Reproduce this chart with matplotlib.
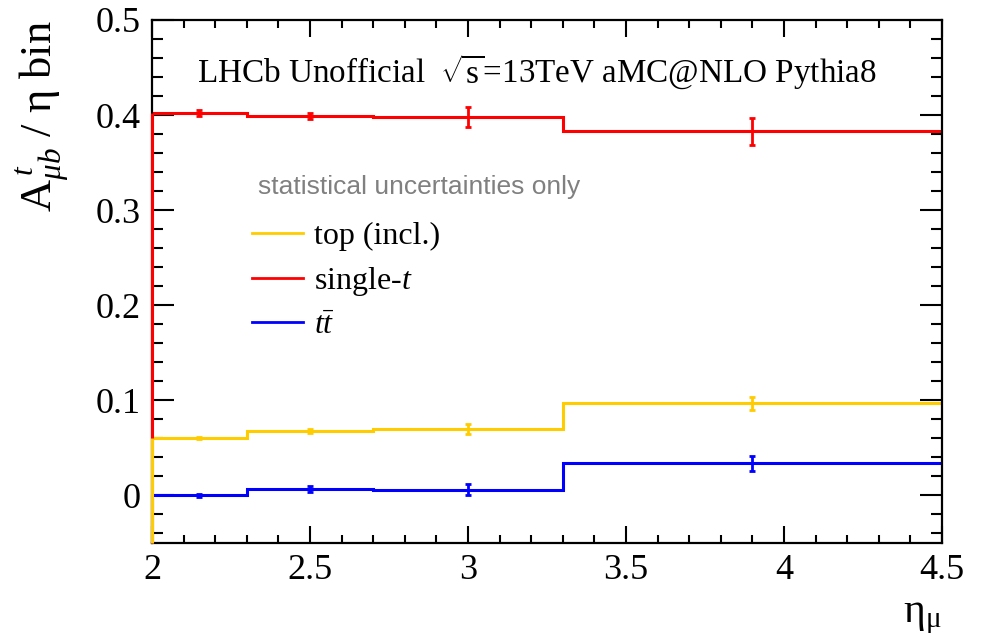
import matplotlib
matplotlib.use("Agg")
import matplotlib.pyplot as plt
from matplotlib.lines import Line2D
from matplotlib.ticker import MultipleLocator

plt.rcParams['font.family'] = ['Liberation Serif', 'DejaVu Serif']
plt.rcParams['mathtext.fontset'] = 'custom'
plt.rcParams['mathtext.rm'] = 'Liberation Serif'
plt.rcParams['mathtext.it'] = 'Liberation Serif:italic'
plt.rcParams['mathtext.bf'] = 'Liberation Serif:bold'

# Data
edges = [2.0, 2.3, 2.7, 3.3, 4.5]
centers = [2.15, 2.5, 3.0, 3.9]
top_incl = [0.060, 0.068, 0.070, 0.097]
top_incl_err = [0.001, 0.002, 0.005, 0.007]
single_t = [0.402, 0.399, 0.398, 0.383]
single_t_err = [0.003, 0.003, 0.010, 0.014]
ttbar = [0.000, 0.007, 0.006, 0.034]
ttbar_err = [0.002, 0.003, 0.006, 0.008]

labels = ['top (incl.)', 'single-$t$', r'$t\bar{t}$']
colors = {'top': '#ffcc00', 'single': '#ff0000', 'tt': '#0000ff'}

xlim = (2.0, 4.5)
ylim = (-0.05, 0.5)

fig = plt.figure(figsize=(9.81, 6.43), dpi=100)
ax = fig.add_axes([152/981, 1-543/643, (942-152)/981, (543-20)/643])

lw = 2.2
series = [(ttbar, ttbar_err, colors['tt']),
          (single_t, single_t_err, colors['single']),
          (top_incl, top_incl_err, colors['top'])]
for i, (vals, errs, c) in enumerate(series):
    ax.stairs(vals, edges, baseline=None, color=c, lw=lw, zorder=2 + i * 0.1)
    ax.vlines(edges[0], ylim[0], vals[0], color=c, lw=lw, clip_on=False,
              zorder=3 + i * 0.1)
    ax.errorbar(centers, vals, yerr=errs, fmt='none', ecolor=c,
                elinewidth=2, capsize=2.5, capthick=2, zorder=2 + i * 0.1)

ax.set_xlim(*xlim)
ax.set_ylim(*ylim)
ax.xaxis.set_major_locator(MultipleLocator(0.5))
ax.xaxis.set_minor_locator(MultipleLocator(0.1))
ax.yaxis.set_major_locator(MultipleLocator(0.1))
ax.yaxis.set_minor_locator(MultipleLocator(0.02))
ax.set_xticks([2, 2.5, 3, 3.5, 4, 4.5])
ax.set_xticklabels(['2', '2.5', '3', '3.5', '4', '4.5'])
ax.set_yticks([0, 0.1, 0.2, 0.3, 0.4, 0.5])
ax.set_yticklabels(['0', '0.1', '0.2', '0.3', '0.4', '0.5'])

ax.tick_params(which='both', direction='in', top=True, right=True, width=1.5,
               labelsize=26, colors='black')
ax.tick_params(axis='y', which='major', length=16, pad=8)
ax.tick_params(axis='y', which='minor', length=8)
ax.tick_params(axis='x', which='major', length=12, pad=8)
ax.tick_params(axis='x', which='minor', length=6)
for s in ax.spines.values():
    s.set_linewidth(1.6)

fig.text(42/981, 1-20/643, r'$\mathrm{A}_{\mu b}^{\,t}$ / η bin', rotation=90,
         ha='center', va='top', fontsize=32)
fig.text(942/981, 1-636/643, r'$\mathrm{η}_{\mathrm{μ}}$', ha='right', va='bottom',
         fontsize=30)

fig.text(197/981, 1-72/643, r'LHCb Unofficial  $\sqrt{\mathrm{s}}$=13TeV aMC@NLO Pythia8',
         ha='left', va='center', fontsize=23.9)
fig.text(258/981, 1-187/643, 'statistical uncertainties only', ha='left', va='center',
         fontsize=19, color='#808080', family='Liberation Sans')

handles = [Line2D([], [], color=colors['top'], lw=2),
           Line2D([], [], color=colors['single'], lw=2),
           Line2D([], [], color=colors['tt'], lw=2)]
fig.legend(handles, labels, loc='upper left', bbox_to_anchor=(252/981, 1-222/643),
           frameon=False, fontsize=23, handlelength=1.6, handletextpad=0.33,
           labelspacing=0.42, borderpad=0, borderaxespad=0)

fig.savefig('out.png', dpi=100)
